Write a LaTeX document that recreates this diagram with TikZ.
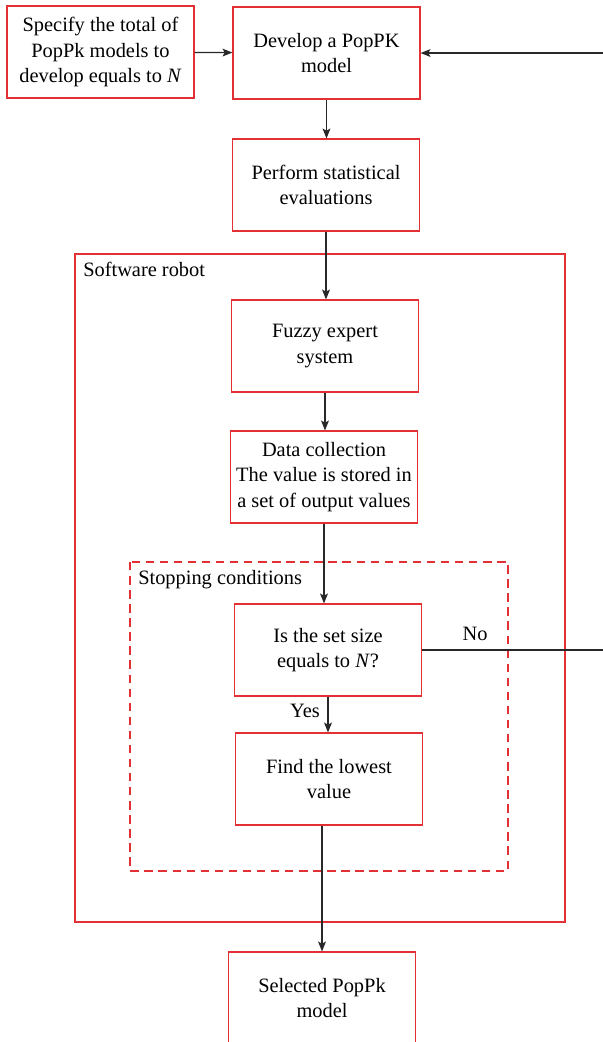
\documentclass[tikz,border=0pt]{standalone}
\usepackage{fontspec}
\setmainfont{Liberation Serif}
\usetikzlibrary{arrows.meta}

\definecolor{boxred}{RGB}{226,48,52}
\definecolor{linegray}{RGB}{40,40,40}

\begin{document}
\begin{tikzpicture}[x=0.025cm, y=-0.025cm,
    box/.style={draw=boxred, line width=0.8pt, minimum width=4.675cm, minimum height=2.3cm,
                align=center, font=\fontsize{14.5}{18}\selectfont, inner sep=0pt},
    frame/.style={draw=boxred, line width=0.8pt},
    flow/.style={draw=linegray, line width=0.9pt, -{Stealth[length=7pt, width=5.5pt, inset=1.5pt]}},
    lbl/.style={font=\fontsize{14.5}{18}\selectfont, inner sep=0pt}]
        \useasboundingbox (0,0) rectangle (603,1042);
        \clip (0,0) rectangle (603,1042);

        % outer frames
        \draw [frame] (75,254) rectangle (565,922);
        \draw [frame, dash pattern=on 6pt off 4pt] (130,562) rectangle (508,871);
        \node [lbl, anchor=north west] (robot) at (83,262) {Software robot};
        \node [lbl, anchor=north west] (stop) at (138,570) {Stopping conditions};

        % boxes
        \node [box] (spec) at (100.5,52) {Specify the total of\\PopPk models to\\develop equals to \textit{N}};
        \node [box] (dev) at (326.5,53) {Develop a PopPK\\model};
        \node [box] (perf) at (326,185) {Perform statistical\\evaluations};
        \node [box] (fuzzy) at (325,346) {Fuzzy expert\\system};
        \node [box] (data) at (324,477) {Data collection\\The value is stored in\\a set of output values};
        \node [box] (size) at (328,650) {Is the set size\\equals to \textit{N}?};
        \node [box] (low) at (329,779) {Find the lowest\\value};
        \node [box] (sel) at (322,998) {Selected PopPk\\model};

        % connectors
        \draw [flow] (spec) -- (dev);
        \draw [flow] (dev.south) -- (dev.south |- perf.north);
        \draw [flow] (perf.south) -- (perf.south |- fuzzy.north);
        \draw [flow] (fuzzy.south) -- (fuzzy.south |- data.north);
        \draw [flow] (data.south) -- (data.south |- size.north);
        \draw [flow] (size.south) -- (size.south |- low.north);
        \draw [flow] (sel.north |- low.south) -- (sel.north);
        \draw [flow] (size.east) -- ++(200,0) |- (dev.east);
        \node [lbl] (yes) at (305,711) {Yes};
        \node [lbl] (no) at (475,634) {No};
\end{tikzpicture}
\end{document}
